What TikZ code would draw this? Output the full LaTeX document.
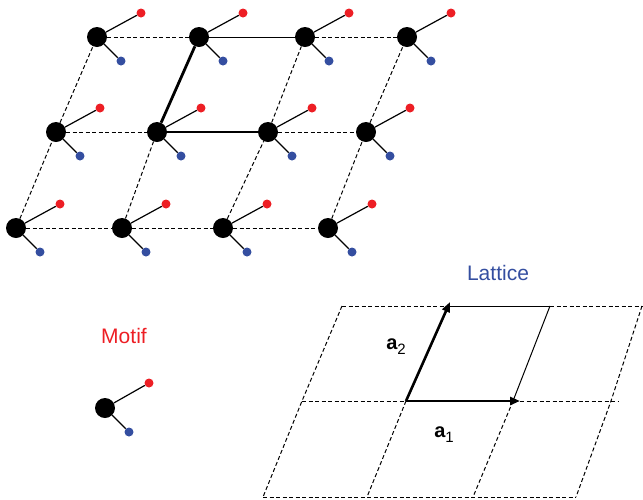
\documentclass[tikz,border=0pt]{standalone}
\usepackage{fontspec}
\setmainfont{Liberation Sans}
\usetikzlibrary{arrows.meta}
\definecolor{motifred}{RGB}{237,30,36}
\definecolor{motifblue}{RGB}{52,78,160}
\begin{document}
\begin{tikzpicture}[x=1pt,y=-1pt,
  big/.style={circle,fill=black,inner sep=0pt,minimum size=20pt},
  reddot/.style={circle,fill=motifred,inner sep=0pt,minimum size=9pt},
  bluedot/.style={circle,fill=motifblue,inner sep=0pt,minimum size=9pt},
  bond/.style={line width=1.2pt},
  gridline/.style={dash pattern=on 4pt off 2.5pt,line width=1pt},
  cellline/.style={line width=1pt},
  vec/.style={line width=2.6pt,-{Triangle[length=10pt,width=8pt]}},
  thickedge/.style={line width=2.8pt},
  labeltext/.style={font=\fontsize{21}{21}\selectfont,anchor=base,inner sep=0pt},
  veclabel/.style={anchor=base,inner sep=0pt}
]
\useasboundingbox (0,0) rectangle (643,499);

% ---------- crystal (top) ----------
\foreach \n/\x/\y in {11/97/37,12/199/37,13/305/37,14/407/37,
                     21/56/132,22/157/132,23/268/132,24/366/132,
                     31/16/228,32/122/228,33/223/228,34/328/228}{
  \node[big] (b\n) at (\x,\y) {};
  \node[reddot] (r\n) at (\x+44,\y-24) {};
  \node[bluedot] (u\n) at (\x+24,\y+24) {};
  \draw[bond] (b\n) -- (r\n);
  \draw[bond] (b\n) -- (u\n);
}
% horizontal connections
\draw[gridline] (b11) -- (b12);
\draw[cellline] (b12) -- (b13);
\draw[gridline] (b13) -- (b14);
\draw[gridline] (b21) -- (b22);
\draw[thickedge] (b22) -- (b23);
\draw[gridline] (b23) -- (b24);
\draw[gridline] (b31) -- (b32);
\draw[gridline] (b32) -- (b33);
\draw[gridline] (b33) -- (b34);
% slanted connections
\draw[gridline] (b31) -- (b21);
\draw[gridline] (b32) -- (b22);
\draw[gridline] (b33) -- (b23);
\draw[gridline] (b34) -- (b24);
\draw[gridline] (b21) -- (b11);
\draw[thickedge] (b22) -- (b12);
\draw[gridline] (b23) -- (b13);
\draw[gridline] (b24) -- (b14);

% ---------- motif ----------
\node[labeltext,text=motifred] (motif) at (124,343) {Motif};
\node[big] (mb) at (105,408) {};
\node[reddot] (mr) at (149,383) {};
\node[bluedot] (mu) at (129,432) {};
\draw[bond] (mb) -- (mr);
\draw[bond] (mb) -- (mu);

% ---------- lattice ----------
\node[labeltext,text=motifblue] (lattice) at (498,280) {Lattice};
\coordinate (T0) at (342,306);
\coordinate (T1) at (447,306);
\coordinate (T2) at (550,306);
\coordinate (T3) at (642,306);
\coordinate (Tend) at (643,306);
\coordinate (M0) at (302,401);
\coordinate (M1) at (406,401);
\coordinate (M2) at (513,401);
\coordinate (M3) at (611,401);
\coordinate (Mend) at (619,401);
\coordinate (B0) at (263,497);
\coordinate (B1) at (367,497);
\coordinate (B2) at (473,497);
\coordinate (B3) at (576,497);
\coordinate (A1) at (520,401);
\coordinate (A2) at (450,302);

\draw[gridline] (T0) -- (T1);
\draw[cellline] (T1) -- (T2);
\draw[gridline] (T2) -- (Tend);
\draw[gridline] (M0) -- (M1);
\draw[gridline] (A1) -- (Mend);
\draw[gridline] (B0) -- (B3);
\draw[gridline] (T0) -- (M0) -- (B0);
\draw[gridline] (M1) -- (B1);
\draw[gridline] (M2) -- (B2);
\draw[gridline] (T3) -- (M3) -- (B3);
\draw[cellline] (T2) -- (M2);
\draw[vec] (M1) -- (A2);
\draw[vec] (M1) -- (A1);

\node[veclabel] (a2) at (396,349) {{\fontsize{20}{20}\selectfont\bfseries a}\raisebox{-5pt}{\fontsize{15}{15}\selectfont 2}};
\node[veclabel] (a1) at (444,437) {{\fontsize{20}{20}\selectfont\bfseries a}\raisebox{-5pt}{\fontsize{15}{15}\selectfont 1}};
\end{tikzpicture}
\end{document}
